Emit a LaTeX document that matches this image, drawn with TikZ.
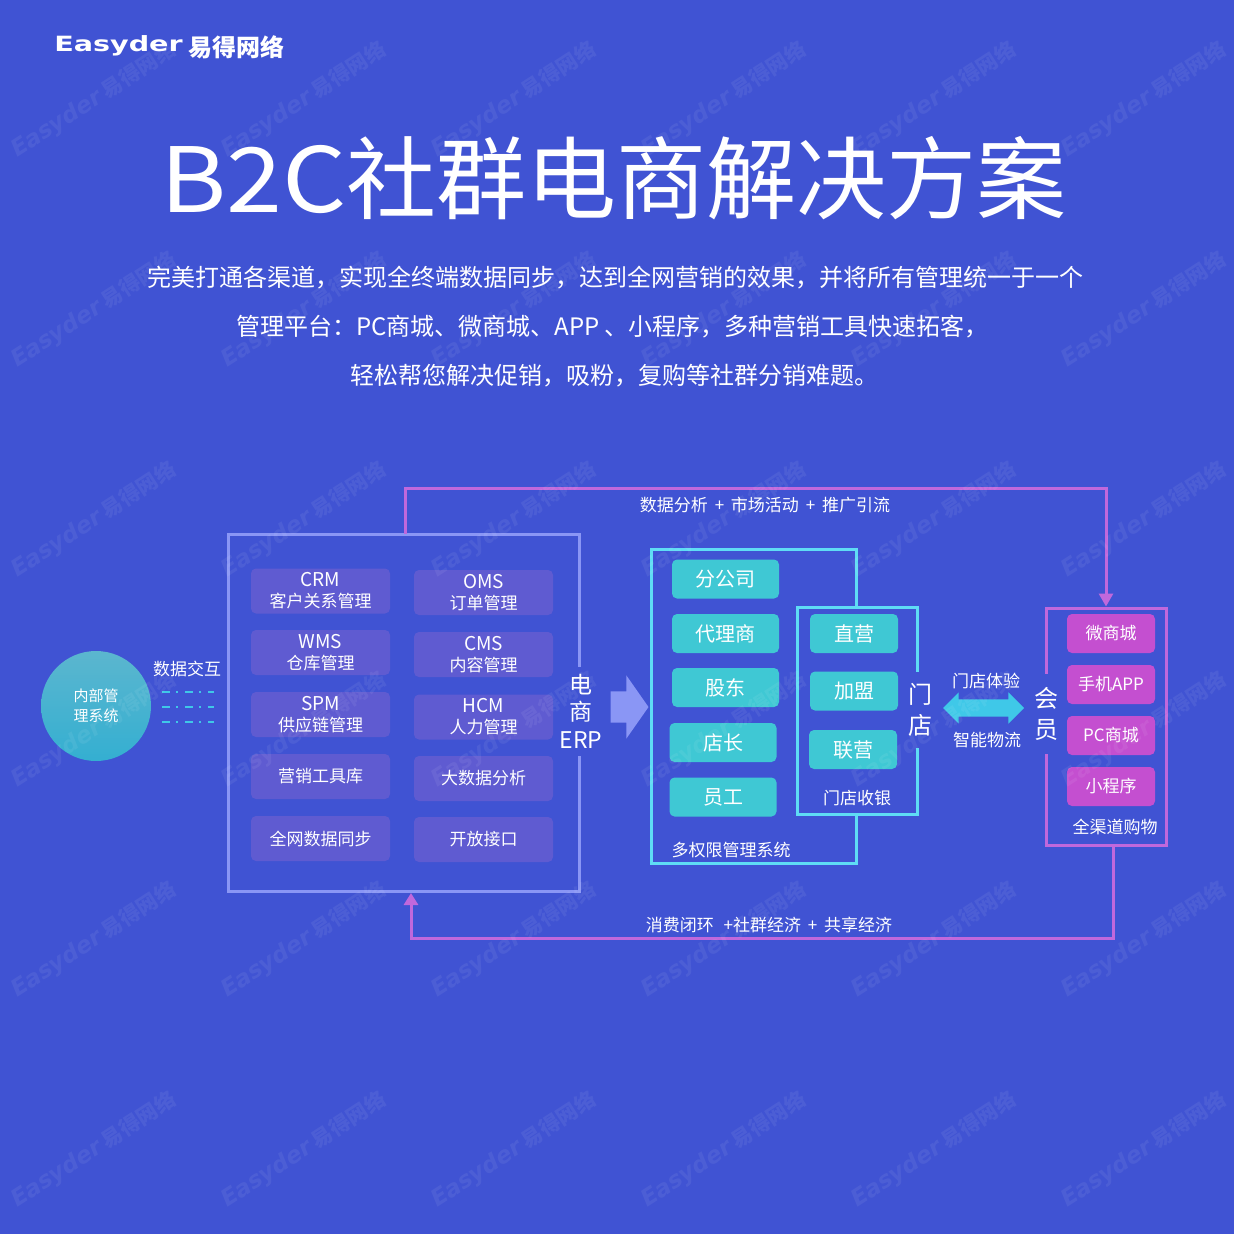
\documentclass[tikz,border=0pt]{standalone}
\usepackage{fontspec}
\setmainfont{Noto Sans CJK SC}
\newfontfamily\logofont{DejaVu Sans}
\usetikzlibrary{arrows.meta,shapes.arrows}
\definecolor{bgblue}{HTML}{4053D3}
\definecolor{erpline}{HTML}{8A96F5}
\definecolor{erpfill}{HTML}{5F5BD1}
\definecolor{cyanline}{HTML}{5FDCF5}
\definecolor{tealfill}{HTML}{3FC8D4}
\definecolor{magfill}{HTML}{C44FD0}
\definecolor{loopcolor}{HTML}{C068DC}
\definecolor{flowcolor}{HTML}{3FC8E8}
\definecolor{circletop}{HTML}{5BB6CF}
\definecolor{circlebot}{HTML}{34AFD1}
\newcommand{\pxsize}[2]{\fontsize{#1}{#2}\selectfont}
\newcommand{\abbr}[1]{{\fontsize{19}{21}\selectfont #1}}
\tikzset{
    every node/.style={text=white,inner sep=0pt,outer sep=0pt,align=center},
    frame/.style={draw=#1,line width=3pt},
    erpcell/.style={fill=erpfill,rounded corners=5pt,minimum width=139pt,minimum height=45pt,font=\pxsize{17}{21}},
    tealcell/.style={fill=tealfill,rounded corners=5pt,minimum height=39pt,font=\pxsize{20}{24}},
    magcell/.style={fill=magfill,rounded corners=5pt,minimum width=88pt,minimum height=39pt,font=\pxsize{17}{21}},
    caption/.style={font=\pxsize{17}{21}},
    gaplabel/.style={fill=bgblue,font=\pxsize{24}{31}},
    loopline/.style={draw=loopcolor,line width=3pt},
    watermark/.style={text=white,text opacity=0.065,rotate=33,font=\bfseries\pxsize{21}{24}}
}
\begin{document}
\begin{tikzpicture}[x=1pt,y=-1pt]
    \fill[bgblue] (0,0) rectangle (1234,1234);
    \useasboundingbox (0,0) rectangle (1234,1234);

    % head
    \node (logo) at (118.5,46) {\logofont\bfseries\pxsize{20}{24}\scalebox{1.43}[1.05]{Easyder}};
    \node (logocn) at (236.5,47) {\bfseries\pxsize{24}{28}易得网络};
    \node (title) at (613.5,178) {\pxsize{90}{100}\scalebox{1.12}[1]{B2C}社群电商解决方案};
    \node (introa) at (615,278) {\pxsize{24}{28}完美打通各渠道，实现全终端数据同步，达到全网营销的效果，并将所有管理统一于一个};
    \node (introb) at (612.5,327) {\pxsize{24}{28}管理平台：PC商城、微商城、APP 、小程序，多种营销工具快速拓客，};
    \node (introc) at (614,376) {\pxsize{24}{28}轻松帮您解决促销，吸粉，复购等社群分销难题。};

    % frames
    \node[frame=erpline,minimum width=351pt,minimum height=357pt] (erpframe) at (403.5,712.5) {};
    \node[frame=cyanline,minimum width=205pt,minimum height=314pt] (branchframe) at (753.5,706) {};
    \node[frame=cyanline,fill=bgblue,minimum width=120pt,minimum height=207pt] (storeframe) at (857,710.5) {};
    \node[frame=loopcolor,minimum width=120pt,minimum height=237pt] (memberframe) at (1106,726.5) {};

    % outer loops
    \coordinate (topbend) at (765,488);
    \coordinate (botbend) at (765,938);
    \draw[loopline,-{Triangle[width=14pt,length=13pt]}] ([xshift=1.5pt]erpframe.north) |- (topbend) -| ([yshift=1.5pt]memberframe.north);
    \draw[loopline,-{Triangle[width=14pt,length=12pt]}] ([xshift=7pt]memberframe.south) |- (botbend) -| ([xshift=7.5pt,yshift=-2pt]erpframe.south);
    \node[caption] (toptext) at (765,505) {数据分析\hspace{3pt} +\hspace{3pt} 市场活动\hspace{3pt} +\hspace{3pt} 推广引流};
    \node[caption] (bottext) at (769,925) {消费闭环\hspace{6pt} +社群经济\hspace{3pt} +\hspace{3pt} 共享经济};

    % internal system
    \node[circle,minimum size=110pt,top color=circletop,bottom color=circlebot,font=\pxsize{15}{20}] (inner) at (96,706) {内部管\\理系统};
    \node[caption] (swaptext) at (187,669) {数据交互};
    \coordinate (swapa) at (162,692);
    \coordinate (swapb) at (214,692);
    \coordinate (swapc) at (162,707);
    \coordinate (swapd) at (214,707);
    \coordinate (swape) at (162,722);
    \coordinate (swapf) at (214,722);
    \draw[flowcolor,line width=1.5pt,dash pattern=on 8pt off 6pt on 2pt off 7pt] (swapa) -- (swapb);
    \draw[flowcolor,line width=1.5pt,dash pattern=on 8pt off 6pt on 2pt off 7pt] (swapc) -- (swapd);
    \draw[flowcolor,line width=1.5pt,dash pattern=on 8pt off 6pt on 2pt off 7pt] (swape) -- (swapf);

    % erp cells
    \node[erpcell] (crm) at (320.5,591) {\abbr{CRM}\\客户关系管理};
    \node[erpcell] (wms) at (320.5,652.5) {\abbr{WMS}\\仓库管理};
    \node[erpcell] (spm) at (320.5,714.5) {\abbr{SPM}\\供应链管理};
    \node[erpcell] (tools) at (320.5,776.5) {营销工具库};
    \node[erpcell] (sync) at (320.5,838.5) {全网数据同步};
    \node[erpcell] (oms) at (483.5,592.5) {\abbr{OMS}\\订单管理};
    \node[erpcell] (cms) at (483.5,654.5) {\abbr{CMS}\\内容管理};
    \node[erpcell] (hcm) at (483.5,717) {\abbr{HCM}\\人力管理};
    \node[erpcell] (data) at (483.5,778.5) {大数据分析};
    \node[erpcell] (api) at (483.5,839.5) {开放接口};
    \node[gaplabel,font=\pxsize{23}{27.5},minimum width=46pt,minimum height=89pt] (erplabel) at (581,711) {电\\商\\ERP};
    \node[single arrow,fill=erpline,inner ysep=15.5pt,minimum height=38pt,single arrow head extend=16pt,single arrow tip angle=110] (erparrow) at (624,707) {};

    % branch cells
    \node[tealcell,minimum width=107pt] (office) at (725.5,579) {分公司};
    \node[tealcell,minimum width=107pt] (agent) at (725.5,633.5) {代理商};
    \node[tealcell,minimum width=107pt] (holder) at (725.5,687.5) {股东};
    \node[tealcell,minimum width=107pt] (manager) at (723,742.5) {店长};
    \node[tealcell,minimum width=107pt] (staff) at (723,797) {员工};
    \node[caption] (branchtext) at (731,850) {多权限管理系统};

    % store cells
    \node[tealcell,minimum width=88pt] (direct) at (854,633.5) {直营};
    \node[tealcell,minimum width=88pt] (franchise) at (854,691) {加盟};
    \node[tealcell,minimum width=88pt] (joint) at (853,749.5) {联营};
    \node[caption] (storetext) at (857,798) {门店收银};
    \node[gaplabel,minimum width=28pt,minimum height=76pt] (storelabel) at (920,710) {门\\店};

    % link
    \node[double arrow,fill=flowcolor,inner ysep=8.5pt,minimum height=81pt,double arrow head extend=7pt] (storelink) at (983.5,708) {};
    \node[caption] (linkup) at (986,681) {门店体验};
    \node[caption] (linkdown) at (987,740) {智能物流};

    % member cells
    \node[gaplabel,minimum width=28pt,minimum height=80pt] (memberlabel) at (1046,714) {会\\员};
    \node[magcell] (wshop) at (1111,633.5) {微商城};
    \node[magcell] (app) at (1111,684.5) {手机APP};
    \node[magcell] (pcshop) at (1111,735.5) {PC商城};
    \node[magcell] (miniapp) at (1111,786.5) {小程序};
    \node[caption] (membertext) at (1115,827) {全渠道购物};

    % watermark
    \foreach \col in {0,...,5}
        \foreach \row in {0,...,5}
            \node[watermark] (tile\col\row) at (94+210*\col,100+210*\row) {{\logofont\itshape\pxsize{23}{24}Easyder}\ 易得网络};
\end{tikzpicture}
\end{document}
